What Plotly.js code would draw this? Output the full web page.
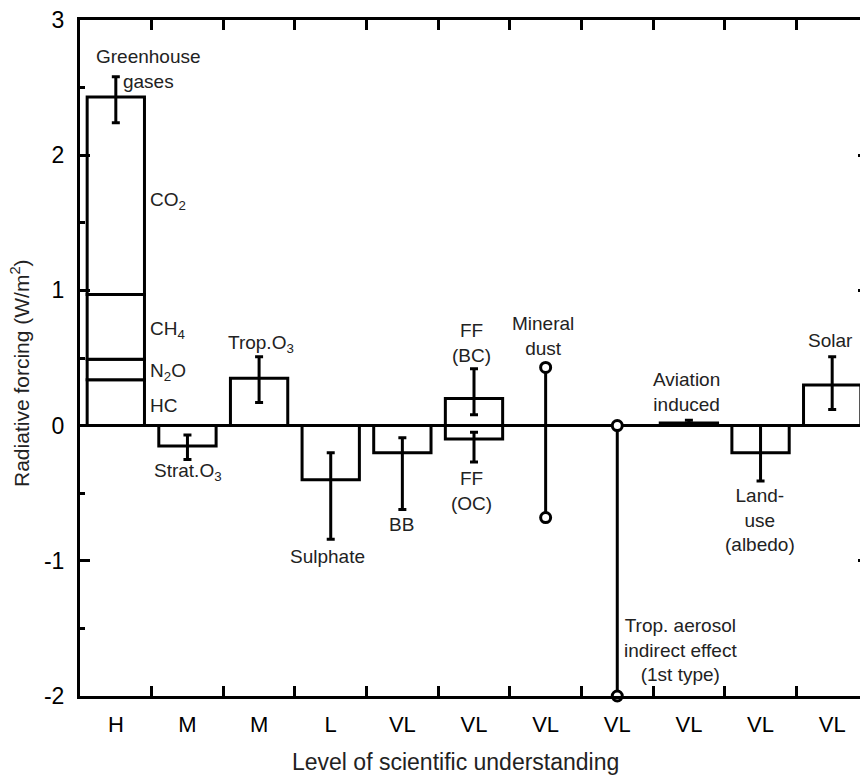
<!DOCTYPE html>
<html>
<head>
<meta charset="utf-8">
<script src="https://cdn.plot.ly/plotly-3.0.1.min.js"></script>
<style>
html, body { margin: 0; padding: 0; overflow: hidden; background: #fff; }
#chart { width: 872px; height: 775px; }
</style>
</head>
<body>
<div id="chart"></div>
<script>
// ---- Data ----
const levels = ['H', 'M', 'M', 'L', 'VL', 'VL', 'VL', 'VL', 'VL', 'VL', 'VL'];
const categoryIndex = [0, 1, 2, 3, 4, 5, 6, 7, 8, 9, 10];

// Greenhouse gas stack (bottom to top)
const ghgNames = ['HC', 'N<sub>2</sub>O', 'CH<sub>4</sub>', 'CO<sub>2</sub>'];
const ghgValues = [0.34, 0.15, 0.48, 1.46];

// Single bars
const barNames = ['Strat.O3', 'Trop.O3', 'Sulphate', 'BB', 'FF (BC)', 'FF (OC)', 'Aviation induced', 'Land-use (albedo)', 'Solar'];
const barIndex = [1, 2, 3, 4, 5, 5, 8, 9, 10];
const barValues = [-0.15, 0.35, -0.40, -0.20, 0.20, -0.10, 0.02, -0.20, 0.30];

// Error bars (central value, low, high)
const errIndex = [0, 1, 2, 3, 4, 5, 5, 8, 9, 10];
const errCentre = [2.43, -0.15, 0.35, -0.40, -0.20, 0.20, -0.10, 0.02, -0.20, 0.30];
const errLow = [2.24, -0.25, 0.17, -0.84, -0.62, 0.08, -0.27, 0.00, -0.41, 0.12];
const errHigh = [2.58, -0.07, 0.51, -0.20, -0.09, 0.42, -0.05, 0.04, 0.00, 0.51];

// Range-only forcings (no central estimate)
const dustIndex = [6, 6];
const dustRange = [0.43, -0.68];
const aerosolIndex = [7, 7];
const aerosolRange = [0.0, -2.0];

// Tick values
const yMajorTicks = [-2, -1, 0, 1, 2, 3];
const yMajorText = ['-2', '-1', '0', '1', '2', '3'];
const yMinorTicks = [-1.5, -0.5, 0.5, 1.5, 2.5];
const xBoundaryTicks = [0.5, 1.5, 2.5, 3.5, 4.5, 5.5, 6.5, 7.5, 8.5, 9.5];

// ---- Traces ----
const FONT = 'Liberation Sans, Arial, Helvetica, sans-serif';
const barStyle = { color: '#ffffff', line: { color: '#000000', width: 3 } };
const traces = [];

ghgValues.forEach((v, i) => {
  traces.push({
    type: 'bar', x: [0], y: [v], name: ghgNames[i], width: 0.8,
    marker: barStyle, hoverinfo: 'name+y'
  });
});

traces.push({
  type: 'bar', x: barIndex, y: barValues, text: barNames, width: 0.8,
  marker: barStyle, textposition: 'none', hoverinfo: 'text+y'
});

traces.push({
  type: 'scatter', mode: 'markers', x: errIndex, y: errCentre,
  marker: { size: 1, opacity: 0 },
  error_y: {
    type: 'data', symmetric: false,
    array: errHigh.map((h, i) => h - errCentre[i]),
    arrayminus: errCentre.map((c, i) => c - errLow[i]),
    color: '#000000', thickness: 3, width: 4
  },
  hoverinfo: 'skip'
});

const rangeStyle = {
  type: 'scatter', mode: 'lines+markers', cliponaxis: false,
  line: { color: '#000000', width: 3 },
  marker: { symbol: 'circle', size: 10, color: '#ffffff', line: { color: '#000000', width: 3 } },
  hoverinfo: 'y'
};
traces.push(Object.assign({}, rangeStyle, { x: dustIndex, y: dustRange }));
traces.push(Object.assign({}, rangeStyle, { x: aerosolIndex, y: aerosolRange }));

// invisible traces so the overlay tick axes are drawn
traces.push({ type: 'scatter', mode: 'markers', x: [null], y: [null], xaxis: 'x2', yaxis: 'y', hoverinfo: 'skip', marker: { opacity: 0 } });
traces.push({ type: 'scatter', mode: 'markers', x: [null], y: [null], xaxis: 'x', yaxis: 'y2', hoverinfo: 'skip', marker: { opacity: 0 } });

// ---- Annotations (labels) ----
const labelFont = { family: FONT, size: 19, color: '#222222' };
function lab(text, x, y, xanchor) {
  return { text: text, x: x, y: y, xref: 'x', yref: 'y', showarrow: false,
           xanchor: xanchor || 'center', yanchor: 'middle', font: labelFont, align: 'center' };
}
const annotations = [
  lab('Greenhouse<br>gases', 0.45, 2.64),
  lab('CO<sub>2</sub>', 0.45, 1.66, 'left'),
  lab('CH<sub>4</sub>', 0.45, 0.71, 'left'),
  lab('N<sub>2</sub>O', 0.45, 0.40, 'left'),
  lab('HC', 0.45, 0.15, 'left'),
  lab('Strat.O<sub>3</sub>', 1.01, -0.34),
  lab('Trop.O<sub>3</sub>', 2.03, 0.60),
  lab('Sulphate', 2.96, -0.97),
  lab('BB', 3.99, -0.73),
  lab('FF<br>(BC)', 4.97, 0.61),
  lab('FF<br>(OC)', 4.97, -0.48),
  lab('Mineral<br>dust', 5.96, 0.66),
  lab('Aviation<br>induced', 7.97, 0.25),
  lab('Land-<br>use<br>(albedo)', 8.99, -0.70),
  lab('Solar', 9.98, 0.63),
  lab('Trop. aerosol<br>indirect effect<br>(1st type)', 7.88, -1.66),
  { text: 'Level of scientific understanding', xref: 'paper', yref: 'paper',
    x: 0.476, y: -0.0975, showarrow: false, xanchor: 'center', yanchor: 'middle',
    font: { family: FONT, size: 23, color: '#222222' } },
  { text: 'Radiative forcing (W/m<sup>2</sup>)', xref: 'paper', yref: 'paper',
    x: -0.076, y: 0.478, showarrow: false, xanchor: 'center', yanchor: 'middle',
    textangle: -90, font: { family: FONT, size: 21, color: '#222222' } }
];

// ---- Layout ----
const layout = {
  width: 872, height: 775,
  margin: { l: 80, r: 4, t: 20, b: 79 },
  paper_bgcolor: '#ffffff', plot_bgcolor: '#ffffff',
  showlegend: false, barmode: 'relative',
  font: { family: FONT, color: '#000000' },
  xaxis: {
    range: [-0.5, 10.5], tickmode: 'array', tickvals: categoryIndex, ticktext: levels,
    ticks: '', showline: true, linewidth: 3, linecolor: '#000000', mirror: true,
    showgrid: false, zeroline: false, tickfont: { family: FONT, size: 22, color: '#000000' },
    ticklabelstandoff: 7
  },
  xaxis2: {
    overlaying: 'x', anchor: 'y', side: 'bottom', range: [-0.5, 10.5],
    tickmode: 'array', tickvals: xBoundaryTicks, ticks: 'inside', ticklen: 10, tickwidth: 3,
    tickcolor: '#000000', showticklabels: false, showline: true, linewidth: 3,
    linecolor: '#000000', mirror: 'ticks', showgrid: false, zeroline: false
  },
  yaxis: {
    range: [-2, 3], tickmode: 'array', tickvals: yMajorTicks, ticktext: yMajorText, ticks: 'inside',
    ticklen: 10, tickwidth: 3, tickcolor: '#000000', showline: true, linewidth: 3,
    linecolor: '#000000', mirror: 'ticks', showgrid: false, zeroline: true,
    zerolinewidth: 3, zerolinecolor: '#000000',
    tickfont: { family: FONT, size: 23, color: '#000000' }, ticklabelstandoff: 8
  },
  yaxis2: {
    overlaying: 'y', anchor: 'x', side: 'left', range: [-2, 3],
    tickmode: 'array', tickvals: yMinorTicks, ticks: 'inside', ticklen: 5, tickwidth: 3,
    tickcolor: '#000000', showticklabels: false, showline: false, showgrid: false, zeroline: false
  },
  annotations: annotations
};

Plotly.newPlot('chart', traces, layout, { displayModeBar: false, staticPlot: true });
</script>
</body>
</html>
